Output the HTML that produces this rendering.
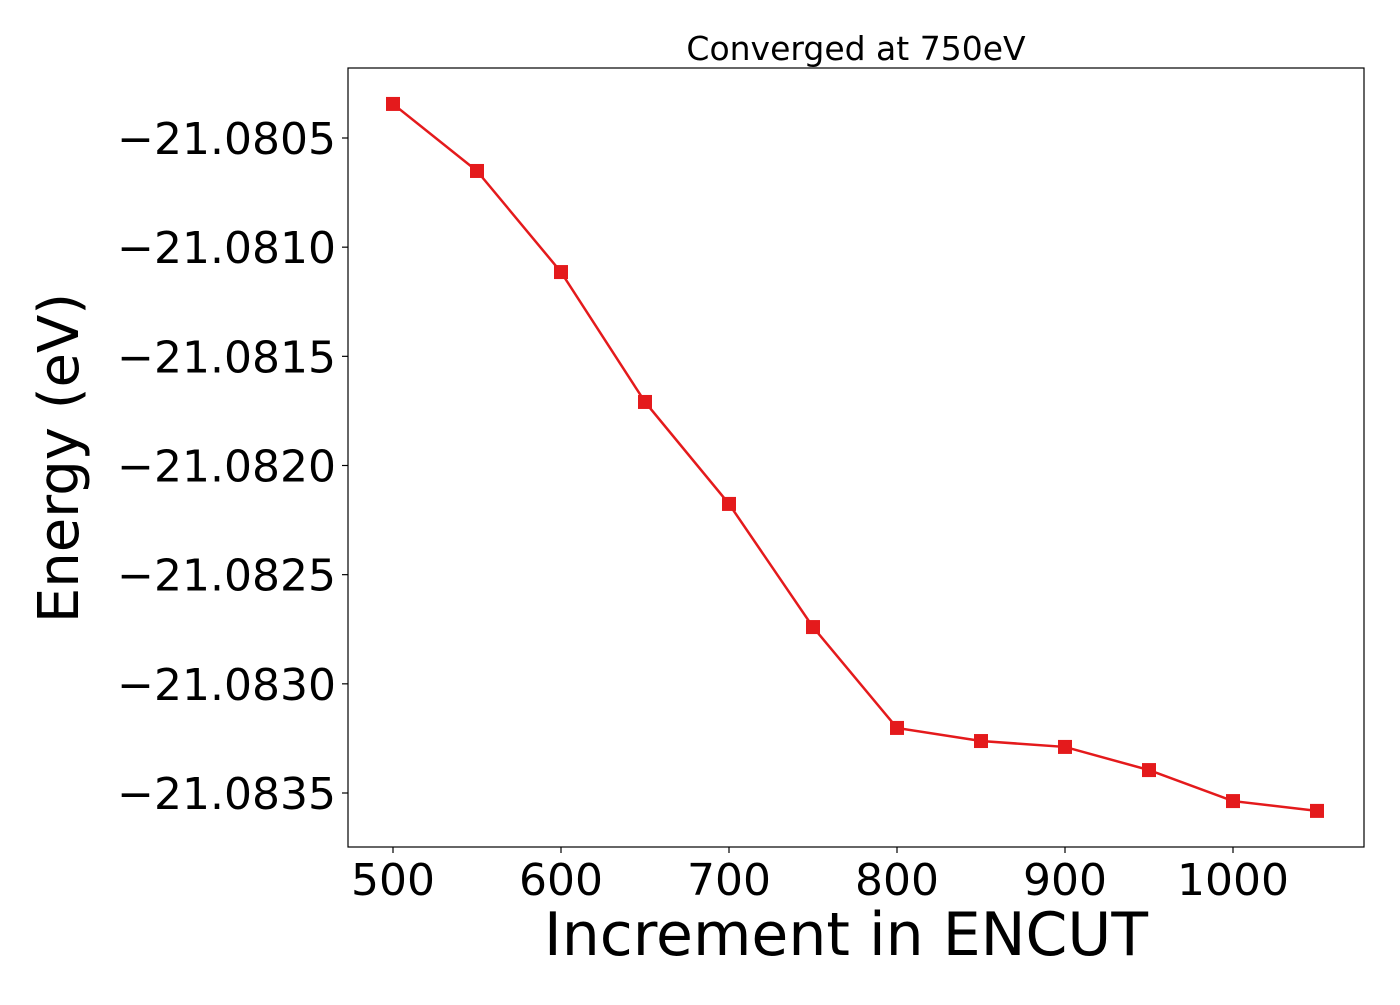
<!DOCTYPE html>
<html><head><meta charset="utf-8"><style>
body{margin:0;background:#fff;}
svg text{font-family:"DejaVu Sans","Liberation Sans",sans-serif;fill:#000;}
</style></head><body>
<svg id="chart" width="1400" height="1000" viewBox="0 0 1400 1000">
<rect x="0" y="0" width="1400" height="1000" fill="#fff"/>
<g id="plot"></g>
</svg>
<script>
const categories=[500,550,600,650,700,750,800,850,900,950,1000,1050];
const energies=[-21.080344,-21.080651,-21.081114,-21.081709,-21.082176,-21.082740,-21.083202,-21.083262,-21.083289,-21.083395,-21.083537,-21.083582];
const xTicks=[500,600,700,800,900,1000];
const yTicks=[-21.0805,-21.0810,-21.0815,-21.0820,-21.0825,-21.0830,-21.0835];
const yTickLabels=["\u221221.0805","\u221221.0810","\u221221.0815","\u221221.0820","\u221221.0825","\u221221.0830","\u221221.0835"];

const L=348,R=1364,T=68,B=847;
function xs(v){return 393+(v-500)*1.68;}
function ys(v){return 138+(-21.0805-v)*218333;}
const NS="http://www.w3.org/2000/svg";
const g=document.getElementById('plot');
function mk(tag,attrs,text){const e=document.createElementNS(NS,tag);for(const k in attrs)e.setAttribute(k,attrs[k]);if(text!==undefined)e.textContent=text;g.appendChild(e);return e;}

let frame=mk('rect',{x:L,y:T,width:R-L,height:B-T,fill:'none',stroke:'#000','stroke-width':1.2});



xTicks.forEach(v=>{
  let t=mk('line',{x1:xs(v),x2:xs(v),y1:B,y2:B+6,stroke:'#000','stroke-width':1.2});
  
  
  let l=mk('text',{x:xs(v),y:B+48,'font-size':44,'text-anchor':'middle'},String(v));
  
  
});
yTicks.forEach((v,i)=>{
  let t=mk('line',{x1:L-6,x2:L,y1:ys(v),y2:ys(v),stroke:'#000','stroke-width':1.2});
  
  
  let l=mk('text',{x:L-12,y:ys(v)+16,'font-size':44,'text-anchor':'end'},yTickLabels[i]);
  
  
});

let pts=categories.map((c,i)=>xs(c)+','+ys(energies[i])).join(' ');
let line=mk('polyline',{points:pts,fill:'none',stroke:'#e41a1c','stroke-width':2.5});


categories.forEach((c,i)=>{
  let m=mk('rect',{x:xs(c)-7,y:ys(energies[i])-7,width:14,height:14,fill:'#e41a1c'});
  
  
});

let title=mk('text',{x:856,y:60,'font-size':33,'text-anchor':'middle'},'Converged at 750eV');


let xl=mk('text',{x:846,y:955,'font-size':60,'text-anchor':'middle'},'Increment in ENCUT');


let yl=mk('text',{x:0,y:0,'font-size':56,'text-anchor':'middle',transform:'translate(78,458) rotate(-90)'},'Energy (eV)');


</script>
</body></html>
